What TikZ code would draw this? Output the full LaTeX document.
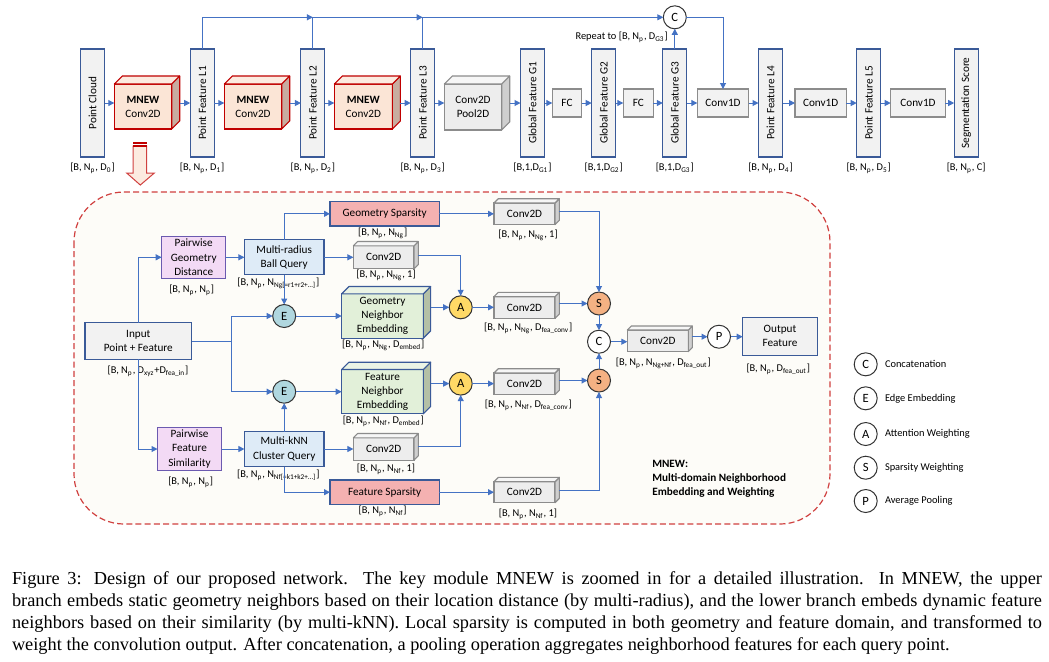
\documentclass[tikz,border=0pt]{standalone}
\usepackage{fontspec}
\setmainfont{Carlito}
\newfontfamily\capfont{Liberation Serif}
\usetikzlibrary{arrows.meta,calc}
\newcommand\sbs[1]{\textsubscript{#1}}
\newcommand\fbx{\fontsize{5.6}{7.1}\selectfont}
\newcommand\flb{\fontsize{5.2}{6.2}\selectfont}
\newcommand\fci{\fontsize{6.3}{7}\selectfont}
\definecolor{bblue}{HTML}{3A5A98}
\definecolor{ablue}{HTML}{4472C4}
\definecolor{lgray}{HTML}{F2F2F2}
\definecolor{mgray}{HTML}{8C8C8C}
\definecolor{cMnF}{HTML}{FBE5D6}
\definecolor{cMnS}{HTML}{C8ADA0}
\definecolor{cMnT}{HTML}{FCEBE0}
\definecolor{mred}{HTML}{C00000}
\definecolor{cCgF}{HTML}{EDEDED}
\definecolor{cCgS}{HTML}{CFCFCF}
\definecolor{cCgT}{HTML}{F6F6F6}
\definecolor{cGrF}{HTML}{E2F0D9}
\definecolor{cGrS}{HTML}{B4C0A6}
\definecolor{cGrT}{HTML}{EBF4E5}
\definecolor{pinkF}{HTML}{F3DAF5}
\definecolor{pborder}{HTML}{6B5AB0}
\definecolor{lblue}{HTML}{DEEBF7}
\definecolor{sparsF}{HTML}{F4B1B1}
\definecolor{eC}{HTML}{B0D7DF}
\definecolor{aC}{HTML}{FFD966}
\definecolor{sC}{HTML}{F4B183}
\definecolor{frameC}{HTML}{D0403F}
\definecolor{bgin}{HTML}{FDFCF8}
\definecolor{cdark}{HTML}{333333}
\newcommand\cube[7]{%
 \node[#6F, minimum width=#3, minimum height=#4] (#1) at #2 {#7};
 \draw[#6S] (#1.north east) -- ++(#5,-#5) -- ([shift={(#5,-#5)}]#1.south east) -- (#1.south east) -- cycle;
 \draw[#6T] (#1.north west) -- ++(#5,-#5) -- ([shift={(#5,-#5)}]#1.north east) -- (#1.north east) -- cycle;
 \coordinate (#1-e) at ([shift={(#5,-#5/2)}]#1.east);
}
\begin{document}
\begin{tikzpicture}[x=0.5pt,y=-0.5pt,
 every node/.style={inner sep=0pt, outer sep=0pt, font=\fbx, align=center},
 blk/.style={draw=bblue, line width=0.55pt, fill=lgray},
 vbar/.style={blk, minimum width=12pt, minimum height=54pt},
 gbx/.style={draw=mgray, line width=0.55pt, fill=lgray, minimum height=14pt},
 circ/.style={circle, draw=cdark, line width=0.5pt, minimum size=11.5pt, font=\fci},
 lab/.style={font=\flb},
 arr/.style={draw=ablue, line width=0.5pt, -{Triangle[length=3pt,width=3pt]}},
 ln/.style={draw=ablue, line width=0.5pt},
 mnF/.style={draw=mred, line width=0.55pt, fill=cMnF},
 mnS/.style={draw=mred, line width=0.55pt, fill=cMnS, line join=round},
 mnT/.style={draw=mred, line width=0.55pt, fill=cMnT, line join=round},
 cgF/.style={draw=mgray, line width=0.55pt, fill=cCgF},
 cgS/.style={draw=mgray, line width=0.55pt, fill=cCgS, line join=round},
 cgT/.style={draw=mgray, line width=0.55pt, fill=cCgT, line join=round},
 grF/.style={draw=bblue, line width=0.55pt, fill=cGrF},
 grS/.style={draw=bblue, line width=0.55pt, fill=cGrS, line join=round},
 grT/.style={draw=bblue, line width=0.55pt, fill=cGrT, line join=round},
 pinkbox/.style={draw=pborder, line width=0.55pt, fill=pinkF, minimum width=32pt, minimum height=21.2pt},
 qbox/.style={draw=bblue, line width=0.55pt, fill=lblue, minimum width=39.8pt, minimum height=17.5pt},
 spbox/.style={draw=bblue, line width=0.55pt, fill=sparsF, minimum width=54.7pt, minimum height=12.2pt},
]
\useasboundingbox (0,0) rectangle (1049,661);
\fill[white] (0,0) rectangle (1049,661);

% ---------- top row ----------
\node[vbar] (pc) at (92.5,103) {\rotatebox{90}{Point Cloud}};
\cube{m1}{(143,106.5)}{28.7pt}{22.5pt}{8}{mn}{\textbf{MNEW}\\Conv2D}
\node[vbar] (L1) at (202.2,103) {\rotatebox{90}{Point Feature L1}};
\cube{m2}{(253,106.5)}{28.7pt}{22.5pt}{8}{mn}{\textbf{MNEW}\\Conv2D}
\node[vbar] (L2) at (312.9,103) {\rotatebox{90}{Point Feature L2}};
\cube{m3}{(363.3,106.5)}{29pt}{22.5pt}{8}{mn}{\textbf{MNEW}\\Conv2D}
\node[vbar] (L3) at (422.7,103) {\rotatebox{90}{Point Feature L3}};
\cube{cp}{(473,107)}{28.7pt}{23pt}{8}{cg}{Conv2D\\Pool2D}
\node[vbar] (G1) at (532.5,103) {\rotatebox{90}{Global Feature G1}};
\node[gbx, minimum width=14.7pt] (fc1) at (567,103) {FC};
\node[vbar] (G2) at (603.7,103) {\rotatebox{90}{Global Feature G2}};
\node[gbx, minimum width=15pt] (fc2) at (638.3,103) {FC};
\node[vbar] (G3) at (674.8,103) {\rotatebox{90}{Global Feature G3}};
\node[circ, fill=white] (cc) at (674.8,17.3) {C};
\node[gbx, minimum width=25.7pt] (cv1) at (723,103) {Conv1D};
\node[vbar] (L4) at (770.5,103) {\rotatebox{90}{Point Feature L4}};
\node[gbx, minimum width=25.7pt] (cv2) at (820.7,103) {Conv1D};
\node[vbar] (L5) at (868.7,103) {\rotatebox{90}{Point Feature L5}};
\node[gbx, minimum width=27.3pt] (cv3) at (918,103) {Conv1D};
\node[vbar] (seg) at (966.2,103) {\rotatebox{90}{Segmentation Score}};

\node[lab] (pcl) at (92.5,168) {[B, N\sbs{p}, D\sbs{0}]};
\node[lab] (L1l) at (202.2,168) {[B, N\sbs{p}, D\sbs{1}]};
\node[lab] (L2l) at (312.9,168) {[B, N\sbs{p}, D\sbs{2}]};
\node[lab] (L3l) at (422.7,168) {[B, N\sbs{p}, D\sbs{3}]};
\node[lab] (G1l) at (532.5,168) {[B,1,D\sbs{G1}]};
\node[lab] (G2l) at (603.7,168) {[B,1,D\sbs{G2}]};
\node[lab] (G3l) at (674.8,168) {[B,1,D\sbs{G3}]};
\node[lab] (L4l) at (770.5,168) {[B, N\sbs{p}, D\sbs{4}]};
\node[lab] (L5l) at (868.7,168) {[B, N\sbs{p}, D\sbs{5}]};
\node[lab] (segl) at (966.2,168) {[B, N\sbs{p}, C]};
\node[lab] (rep) at (621.7,37.7) {Repeat to [B, N\sbs{p}, D\sbs{G3}]};

\draw[arr] (pc.east) -- (pc.east -| m1.west);
\draw[arr] (m1-e |- L1.west) -- (L1.west);
\draw[arr] (L1.east) -- (L1.east -| m2.west);
\draw[arr] (m2-e |- L2.west) -- (L2.west);
\draw[arr] (L2.east) -- (L2.east -| m3.west);
\draw[arr] (m3-e |- L3.west) -- (L3.west);
\draw[arr] (L3.east) -- (L3.east -| cp.west);
\draw[arr] (cp-e |- G1.west) -- (G1.west);
\draw[arr] (G1.east) -- (fc1.west);
\draw[arr] (fc1.east) -- (G2.west);
\draw[arr] (G2.east) -- (fc2.west);
\draw[arr] (fc2.east) -- (G3.west);
\draw[arr] (G3.east) -- (cv1.west);
\draw[arr] (cv1.east) -- (L4.west);
\draw[arr] (L4.east) -- (cv2.west);
\draw[arr] (cv2.east) -- (L5.west);
\draw[arr] (L5.east) -- (cv3.west);
\draw[arr] (cv3.east) -- (seg.west);
% skip links
\draw[arr] (L1.north) |- (L2.north |- cc.west);
\draw[ln] (L2.north) -- (L2.north |- cc.west);
\draw[arr] (L2.north |- cc.west) -- (L3.north |- cc.west);
\draw[arr] (L3.north) |- (cc.west);
\draw[arr] (G3.north) -- (cc.south);
\draw[arr] (cc.east) -| (cv1.north);

% big red arrow
\draw[draw=frameC, line width=0.5pt, fill=cMnT, line join=miter]
 (133,146) -- (146.7,146) -- (146.7,173) -- (154.3,173) -- (140.3,185) -- (126.7,173) -- (133,173) -- cycle;
\fill[mred] (133,141.5) rectangle (146.7,146.5);
\draw[white, line width=0.35pt] (133,144) -- (146.7,144);

% ---------- MNEW frame ----------
\draw[draw=frameC, line width=0.6pt, dash pattern=on 3pt off 1.6pt, fill=bgin, rounded corners=25pt]
 (74,192) rectangle (830,524);

\node[blk, minimum width=53.3pt, minimum height=18.3pt] (inp) at (138.3,341) {Input\\Point + Feature};
\node[pinkbox] (pgd) at (193.7,257.3) {Pairwise\\Geometry\\Distance};
\node[qbox] (mrbq) at (284.2,257.3) {Multi-radius\\Ball Query};
\node[spbox] (gs) at (384.7,213.8) {Geometry Sparsity};
\cube{cvg0}{(524.5,213.8)}{30.5pt}{10.8pt}{4.3}{cg}{Conv2D}
\cube{cvg1}{(383.7,257.3)}{30.3pt}{11.5pt}{4.3}{cg}{Conv2D}
\node[circ, fill=eC] (Eu) at (284.2,316) {E};
\cube{gne}{(382.5,316)}{40.8pt}{22.2pt}{7.3}{gr}{Geometry\\Neighbor\\Embedding}
\node[circ, fill=aC] (Au) at (460.7,307.3) {A};
\cube{cvg2}{(524.5,307.5)}{30.5pt}{10.8pt}{4.3}{cg}{Conv2D}
\node[circ, fill=sC] (Su) at (599,303.5) {S};
\node[circ, fill=white] (Cm) at (599,341.7) {C};
\cube{cvo}{(657.8,340.8)}{30.5pt}{10.8pt}{4}{cg}{Conv2D}
\node[circ, fill=white] (Pp) at (719,336.7) {P};
\node[blk, minimum width=37.3pt, minimum height=18.9pt] (out) at (780,336.2) {Output\\Feature};
\node[circ, fill=eC] (El) at (284.2,391.7) {E};
\cube{fne}{(382.5,391.7)}{40.8pt}{22.2pt}{7.3}{gr}{Feature\\Neighbor\\Embedding}
\node[circ, fill=aC] (Al) at (460.7,383.6) {A};
\cube{cvf2}{(524.5,383.8)}{30.5pt}{10.8pt}{4.3}{cg}{Conv2D}
\node[circ, fill=sC] (Sl) at (599,380.5) {S};
\node[pinkbox] (pfs) at (189.5,449) {Pairwise\\Feature\\Similarity};
\node[qbox] (mkcq) at (284.2,449) {Multi-kNN\\Cluster Query};
\cube{cvf1}{(383.7,449)}{30.3pt}{11.2pt}{4.3}{cg}{Conv2D}
\node[spbox] (fs) at (384.7,492.2) {Feature Sparsity};
\cube{cvf0}{(524.5,492.2)}{30.5pt}{10.5pt}{4.3}{cg}{Conv2D}

% labels
\node[lab] (inpl) at (148,371.7) {[B, N\sbs{p}, D\sbs{xyz}+D\sbs{fea\_in}]};
\node[lab] (pgdl) at (191.7,290) {[B, N\sbs{p}, N\sbs{p}]};
\node[lab] (mrbql) at (278.3,283.3) {[B, N\sbs{p}, N\sbs{Ng[=r1+r2+…]}]};
\node[lab] (gsl) at (382.7,233.3) {[B, N\sbs{p}, N\sbs{Ng}]};
\node[lab] (cvg1l) at (386,275.7) {[B, N\sbs{p}, N\sbs{Ng}, 1]};
\node[lab] (gnel) at (383.3,345) {[B, N\sbs{p}, N\sbs{Ng}, D\sbs{embed}]};
\node[lab] (cvg2l) at (528.3,328.3) {[B, N\sbs{p}, N\sbs{Ng}, D\sbs{fea\_conv}]};
\node[lab] (cvg0l) at (528,235) {[B, N\sbs{p}, N\sbs{Ng}, 1]};
\node[lab] (cvol) at (663.3,363.3) {[B, N\sbs{p}, N\sbs{Ng+Nf}, D\sbs{fea\_out}]};
\node[lab] (outl) at (778.3,369.3) {[B, N\sbs{p}, D\sbs{fea\_out}]};
\node[lab] (fnel) at (383.3,421.7) {[B, N\sbs{p}, N\sbs{Nf}, D\sbs{embed}]};
\node[lab] (cvf2l) at (528.3,405) {[B, N\sbs{p}, N\sbs{Nf}, D\sbs{fea\_conv}]};
\node[lab] (pfsl) at (190.7,482.7) {[B, N\sbs{p}, N\sbs{p}]};
\node[lab] (mkcql) at (278.3,475) {[B, N\sbs{p}, N\sbs{Nf[=k1+k2+…]}]};
\node[lab] (cvf1l) at (386,469) {[B, N\sbs{p}, N\sbs{Nf}, 1]};
\node[lab] (fsl) at (382.7,511.7) {[B, N\sbs{p}, N\sbs{Nf}]};
\node[lab] (cvf0l) at (528,514) {[B, N\sbs{p}, N\sbs{Nf}, 1]};

\node[anchor=north west, align=left, font=\fontsize{5.6}{7}\selectfont\bfseries] (mnewt) at (652.3,460)
 {MNEW:\\Multi-domain Neighborhood\\Embedding and Weighting};

% connectors
\coordinate (jn) at (231.7,341);
\draw[arr] (inp.north) |- (pgd.west);
\draw[arr] (inp.south) |- (pfs.west);
\draw[ln] (inp.east) -- (jn);
\draw[arr] (jn) |- (Eu.west);
\draw[arr] (jn) |- (El.west);
\draw[arr] (pgd.east) -- (mrbq.west);
\draw[arr] (mrbq.north) |- (gs.west);
\draw[arr] (mrbq.east) -- (cvg1.west);
\draw[arr] (mrbq.south) -- (Eu.north);
\draw[arr] (Eu.east) -- (gne.west);
\draw[arr] (gne-e |- Au.west) -- (Au.west);
\draw[arr] (cvg1-e) -| (Au.north);
\draw[arr] (Au.east) -- (Au.east -| cvg2.west);
\draw[arr] (cvg2-e |- Su.west) -- (Su.west);
\draw[arr] (gs.east) -- (cvg0.west);
\draw[arr] (cvg0-e) -| (Su.north);
\draw[arr] (Su.south) -- (Cm.north);
\draw[arr] (Sl.north) -- (Cm.south);
\draw[arr] (Cm.east) -- (Cm.east -| cvo.west);
\draw[arr] (cvo-e |- Pp.west) -- (Pp.west);
\draw[arr] (Pp.east) -- (Pp.east -| out.west);
\draw[arr] (pfs.east) -- (mkcq.west);
\draw[arr] (mkcq.north) -- (El.south);
\draw[arr] (mkcq.east) -- (cvf1.west);
\draw[arr] (mkcq.south) |- (fs.west);
\draw[arr] (El.east) -- (fne.west);
\draw[arr] (fne-e |- Al.west) -- (Al.west);
\draw[arr] (cvf1-e) -| (Al.south);
\draw[arr] (Al.east) -- (Al.east -| cvf2.west);
\draw[arr] (cvf2-e |- Sl.west) -- (Sl.west);
\draw[arr] (fs.east) -- (cvf0.west);
\draw[arr] (cvf0-e) -| (Sl.south);

% legend
\node[circ, fill=white] (kC) at (865.7,364.3) {C};
\node[circ, fill=white] (kE) at (865.7,398.3) {E};
\node[circ, fill=white] (kA) at (865.7,434) {A};
\node[circ, fill=white] (kS) at (865.7,467.7) {S};
\node[circ, fill=white] (kP) at (865.7,501) {P};
\node[lab, anchor=west] (kCt) at (885,364.3) {Concatenation};
\node[lab, anchor=west] (kEt) at (885,398.3) {Edge Embedding};
\node[lab, anchor=west] (kAt) at (885,434) {Attention Weighting};
\node[lab, anchor=west] (kSt) at (885,467.7) {Sparsity Weighting};
\node[lab, anchor=west] (kPt) at (885,501) {Average Pooling};

% caption
\node[anchor=north west, text width=515pt, align=justify, font=\capfont\fontsize{9.17}{11}\selectfont] (cap) at (12,571.5)
 {\noindent Figure 3: Design of our proposed network. The key module MNEW is zoomed in for a detailed illustration. In MNEW, the upper\linebreak
 branch embeds static geometry neighbors based on their location distance (by multi-radius), and the lower branch embeds dynamic feature\linebreak
 neighbors based on their similarity (by multi-kNN). Local sparsity is computed in both geometry and feature domain, and transformed to\linebreak
 weight the convolution output. After concatenation, a pooling operation aggregates neighborhood features for each query point.};
\end{tikzpicture}
\end{document}
